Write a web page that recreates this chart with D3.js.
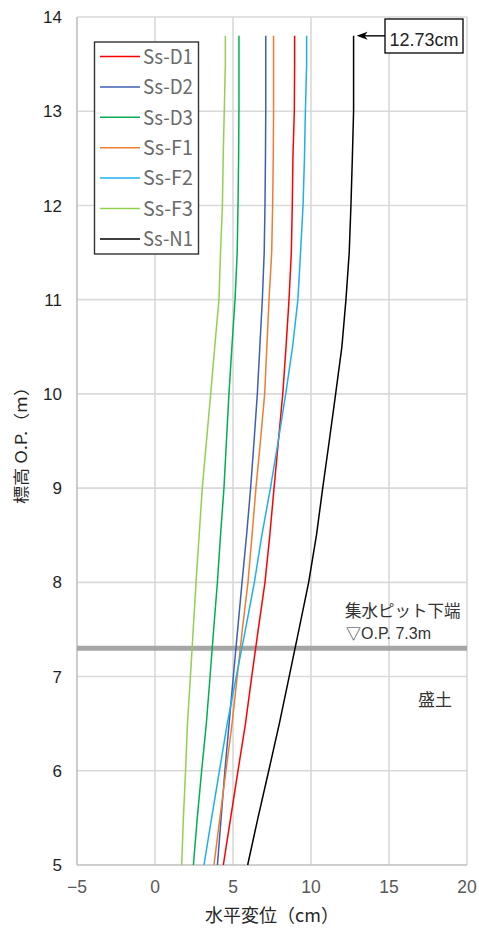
<!DOCTYPE html>
<html><head><meta charset="utf-8">
<script src="https://cdn.jsdelivr.net/npm/d3@7"></script>
<style>html,body{margin:0;padding:0;background:#fff;}svg{display:block;}</style>
</head><body>
<script>
const elevations = [5.0,5.5,6.0,6.5,7.0,7.5,8.0,8.5,9.0,9.5,10.0,10.5,11.0,11.5,12.0,12.5,13.0,13.5,13.8];
const seriesNames = ["Ss-D1","Ss-D2","Ss-D3","Ss-F1","Ss-F2","Ss-F3","Ss-N1"];
const ssD1 = [4.38,4.85,5.32,5.80,6.20,6.62,7.05,7.36,7.63,7.91,8.19,8.40,8.59,8.74,8.80,8.84,8.93,8.95,8.95];
const ssD2 = [4.00,4.24,4.48,4.75,5.02,5.30,5.58,5.87,6.13,6.35,6.56,6.72,6.88,7.00,7.05,7.08,7.10,7.10,7.10];
const ssD3 = [2.46,2.71,2.99,3.29,3.53,3.76,4.00,4.20,4.42,4.58,4.74,4.93,5.13,5.27,5.32,5.36,5.38,5.38,5.38];
const ssF1 = [3.78,4.16,4.55,4.94,5.27,5.60,5.96,6.22,6.47,6.76,7.03,7.17,7.31,7.48,7.54,7.58,7.60,7.60,7.60];
const ssF2 = [3.14,3.63,4.13,4.63,5.21,5.80,6.37,6.85,7.40,7.90,8.38,8.82,9.16,9.33,9.49,9.58,9.64,9.72,9.72];
const ssF3 = [1.71,1.82,1.96,2.08,2.27,2.45,2.63,2.83,3.03,3.30,3.57,3.83,4.10,4.20,4.32,4.37,4.44,4.51,4.51];
const ssN1 = [5.94,6.60,7.29,7.97,8.60,9.23,9.85,10.35,10.75,11.17,11.58,11.98,12.24,12.45,12.56,12.65,12.73,12.73,12.73];
const xTicks = [-5,0,5,10,15,20];
const yTicks = [5,6,7,8,9,10,11,12,13,14];
const maxLabel = "12.73cm";
const pitLevel = 7.3;
const pitLabel1 = "集水ピット下端";
const pitLabel2 = "O.P. 7.3m";
const soilLabel = "盛土";

const colors = ["#ff0000","#3f5fb5","#00b050","#ed7d31","#1cb0ec","#92d050","#000000"];
const seriesVals = [ssD1,ssD2,ssD3,ssF1,ssF2,ssF3,ssN1];

const W = 479, H = 928;
const svg = d3.select("body").append("svg").attr("width",W).attr("height",H);
const x = d3.scaleLinear().domain([-5,20]).range([77,467]);
const y = d3.scaleLinear().domain([5,14]).range([865,17]);
const jp = "'Noto Sans CJK JP','Noto Sans',sans-serif";
const lat = "'Liberation Sans',Arial,sans-serif";

// gridlines
const g = svg.append("g");
g.selectAll("line.h").data(yTicks.filter(d=>d>5)).join("line")
  .attr("x1",x(-5)).attr("x2",x(20)).attr("y1",d=>y(d)).attr("y2",d=>y(d))
  .attr("stroke","#d9d9d9").attr("stroke-width",1.6);
g.selectAll("line.v").data(xTicks.filter(d=>d>-5)).join("line")
  .attr("x1",d=>x(d)).attr("x2",d=>x(d)).attr("y1",y(5)).attr("y2",y(14))
  .attr("stroke","#d9d9d9").attr("stroke-width",1.6);
// axes lines
svg.append("line").attr("x1",x(-5)).attr("x2",x(-5)).attr("y1",y(5)).attr("y2",y(14)).attr("stroke","#bfbfbf").attr("stroke-width",1.6);
svg.append("line").attr("x1",x(-5)).attr("x2",x(20)).attr("y1",y(5)).attr("y2",y(5)).attr("stroke","#bfbfbf").attr("stroke-width",1.6);

// tick labels
const fmt = d3.format("");
svg.selectAll("text.yt").data(yTicks).join("text")
  .attr("x",62).attr("y",d=>y(d)).attr("dy","0.36em").attr("text-anchor","end")
  .attr("font-family",lat).attr("font-size",17).attr("fill","#1f1f1f").text(d=>fmt(d));
svg.selectAll("text.xt").data(xTicks).join("text")
  .attr("x",d=>x(d)).attr("y",893).attr("text-anchor","middle")
  .attr("font-family",lat).attr("font-size",17.5).attr("fill","#595959").text(d=>fmt(d));

// axis titles
svg.append("text").attr("x",x(7.5)).attr("y",922).attr("text-anchor","middle")
  .attr("font-family",jp).attr("font-size",18).attr("fill","#262626").text("水平変位（cm）");
svg.append("text").attr("transform",`translate(27,${(y(5)+y(14))/2}) rotate(-90)`)
  .attr("text-anchor","middle").attr("font-family",jp).attr("font-size",16).attr("font-weight","400")
  .attr("fill","#262626").attr("textLength",126).attr("lengthAdjust","spacingAndGlyphs").text("標高 O.P.（m）");

// pit line
svg.append("line").attr("x1",x(-5)).attr("x2",x(20)).attr("y1",y(pitLevel)).attr("y2",y(pitLevel))
  .attr("stroke","#a6a6a6").attr("stroke-width",5);
svg.append("text").attr("x",345).attr("y",611).attr("dy","0.36em").attr("font-family",jp).attr("font-size",16.5).attr("fill","#333").text(pitLabel1);
const t2 = svg.append("text").attr("x",346).attr("y",633).attr("dy","0.36em").attr("font-size",16).attr("fill","#333");
t2.append("tspan").attr("font-family",jp).attr("font-size",15).text("▽");
t2.append("tspan").attr("font-family",lat).text(pitLabel2);
svg.append("text").attr("x",418).attr("y",700).attr("dy","0.36em").attr("font-family",jp).attr("font-size",17).attr("fill","#333").text(soilLabel);

// series lines
const line = d3.line().x(d=>x(d[0])).y(d=>y(d[1]));
seriesVals.forEach((vals,i)=>{
  svg.append("path").datum(vals.map((v,j)=>[v,elevations[j]]))
    .attr("d",line).attr("fill","none").attr("stroke",colors[i]).attr("stroke-width",1.5);
});

// legend
const lg = svg.append("g");
lg.append("rect").attr("x",94.5).attr("y",42).attr("width",104).attr("height",212)
  .attr("fill","#fff").attr("stroke","#333").attr("stroke-width",1.4);
seriesNames.forEach((n,i)=>{
  const yy = 56.5 + i*30.4;
  lg.append("line").attr("x1",100).attr("x2",140).attr("y1",yy).attr("y2",yy).attr("stroke",colors[i]).attr("stroke-width",1.5);
  lg.append("text").attr("x",143).attr("y",yy).attr("dy","0.36em").attr("font-family",jp).attr("font-size",20)
    .attr("fill","#6b6b6b").attr("textLength",50).attr("lengthAdjust","spacingAndGlyphs").text(n);
});

// max annotation
const topN1 = ssN1[ssN1.length-1], topE = elevations[elevations.length-1];
svg.append("rect").attr("x",385).attr("y",19).attr("width",78).attr("height",34)
  .attr("fill","#fff").attr("stroke","#000").attr("stroke-width",1.3);
svg.append("text").attr("x",424).attr("y",40).attr("dy","0.36em").attr("text-anchor","middle")
  .attr("font-family",lat).attr("font-size",18).attr("fill","#222").text(maxLabel);
const ax0 = x(topN1)+3, ay = y(topE);
svg.append("line").attr("x1",385).attr("x2",ax0+6).attr("y1",ay).attr("y2",ay).attr("stroke","#000").attr("stroke-width",1.4);
svg.append("path").attr("d",`M${ax0},${ay} L${ax0+11},${ay-4} L${ax0+8},${ay} L${ax0+11},${ay+4} Z`).attr("fill","#000");
</script>
</body></html>
